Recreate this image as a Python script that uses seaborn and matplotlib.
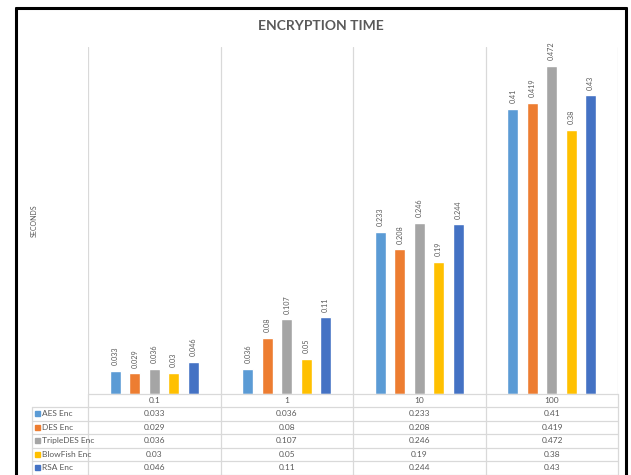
import matplotlib
matplotlib.use("Agg")
import matplotlib.pyplot as plt
from matplotlib.lines import Line2D
from matplotlib.patches import Rectangle
import pandas as pd
import seaborn as sns

# Data
sizes = ["0.1", "1", "10", "100"]
algorithms = ["AES Enc", "DES Enc", "TripleDES Enc", "BlowFish Enc", "RSA Enc"]
aes = [0.033, 0.036, 0.233, 0.41]
des = [0.029, 0.08, 0.208, 0.419]
triple_des = [0.036, 0.107, 0.246, 0.472]
blowfish = [0.03, 0.05, 0.19, 0.38]
rsa = [0.046, 0.11, 0.244, 0.43]
label_texts = {
    "AES Enc": ["0.033", "0.036", "0.233", "0.41"],
    "DES Enc": ["0.029", "0.08", "0.208", "0.419"],
    "TripleDES Enc": ["0.036", "0.107", "0.246", "0.472"],
    "BlowFish Enc": ["0.03", "0.05", "0.19", "0.38"],
    "RSA Enc": ["0.046", "0.11", "0.244", "0.43"],
}
colors = ["#5B9BD5", "#ED7D31", "#A5A5A5", "#FFC000", "#4472C4"]

series = [aes, des, triple_des, blowfish, rsa]
df = pd.DataFrame(
    [(s, a, v) for a, vals in zip(algorithms, series) for s, v in zip(sizes, vals)],
    columns=["size", "algorithm", "seconds"],
)

sns.set_theme(style="white")
plt.rcParams["font.family"] = ["Lato", "DejaVu Sans"]
TEXT = "#595959"
GRID = "#D9D9D9"

W, H = 631, 475
fig = plt.figure(figsize=(W / 100, H / 100), dpi=100)
fig.patch.set_facecolor("white")

def fx(px):
    return px / W

def fy(py):
    return 1 - py / H

# Plot area geometry (pixels)
left, right = 88, 618
base, top = 393.5, 46.6
ax = fig.add_axes([fx(left), fy(base), fx(right) - fx(left), fy(top) - fy(base)])

sns.barplot(
    data=df, x="size", y="seconds", hue="algorithm", order=sizes,
    hue_order=algorithms, palette=colors, width=0.735, gap=0.45,
    saturation=1, legend=False, ax=ax, errorbar=None,
)
ax.set_xlim(-0.5, 3.5)
ax.set_ylim(0, 0.5)
ax.set_xticks([])
ax.set_yticks([])
ax.set_xlabel("")
ax.set_ylabel("")
for sp in ax.spines.values():
    sp.set_visible(False)
for xb in [-0.5, 0.5, 1.5, 2.5, 3.5]:
    ax.axvline(xb, color=GRID, lw=0.9, zorder=0)

# Rotated value labels above each bar
for container, alg in zip(ax.containers, algorithms):
    ax.bar_label(container, labels=label_texts[alg], rotation=90, padding=4,
                 fontsize=5.2, color=TEXT)

# Title and axis title
fig.text(fx(321), fy(26), "ENCRYPTION TIME", ha="center", va="center",
         fontsize=10, fontweight="bold", color=TEXT)
fig.text(fx(34), fy(221), "SECONDS", ha="center", va="center", rotation=90,
         fontsize=5, color=TEXT)

# Data table beneath the plot
row_lines = [393.5, 407, 420.5, 434, 447.5, 461, 474.5]
col_edges = [88, 221, 353, 486, 618]
tbl_left = 32
line_kw = dict(color=GRID, lw=0.9, transform=fig.transFigure)
fig.add_artist(Line2D([fx(left), fx(right)], [fy(row_lines[0])] * 2, **line_kw))
for ry in row_lines[1:]:
    fig.add_artist(Line2D([fx(tbl_left), fx(right)], [fy(ry)] * 2, **line_kw))
for cx in col_edges:
    fig.add_artist(Line2D([fx(cx)] * 2, [fy(row_lines[0]), 0], **line_kw))
fig.add_artist(Line2D([fx(tbl_left)] * 2, [fy(row_lines[1]), 0], **line_kw))

for i, s in enumerate(sizes):
    cx = (col_edges[i] + col_edges[i + 1]) / 2
    fig.text(fx(cx), fy((row_lines[0] + row_lines[1]) / 2), s, ha="center",
             va="center", fontsize=6, color=TEXT)

for r, (alg, col) in enumerate(zip(algorithms, colors)):
    yc = (row_lines[r + 1] + row_lines[r + 2]) / 2
    fig.add_artist(Rectangle((fx(35), fy(yc + 2.5)), fx(5), 5 / H,
                             color=col, transform=fig.transFigure))
    fig.text(fx(42), fy(yc), alg, ha="left", va="center", fontsize=6, color=TEXT)
    for i, t in enumerate(label_texts[alg]):
        cx = (col_edges[i] + col_edges[i + 1]) / 2
        fig.text(fx(cx), fy(yc), t, ha="center", va="center", fontsize=6,
                 color=TEXT)

# Outer black frame
frame_kw = dict(color="black", lw=2.2, transform=fig.transFigure)
fig.add_artist(Line2D([fx(16), fx(626)], [fy(8)] * 2, **frame_kw))
fig.add_artist(Line2D([fx(16)] * 2, [fy(8), 0], **frame_kw))
fig.add_artist(Line2D([fx(626)] * 2, [fy(8), 0], **frame_kw))

fig.savefig("out.png", dpi=100, facecolor="white")
